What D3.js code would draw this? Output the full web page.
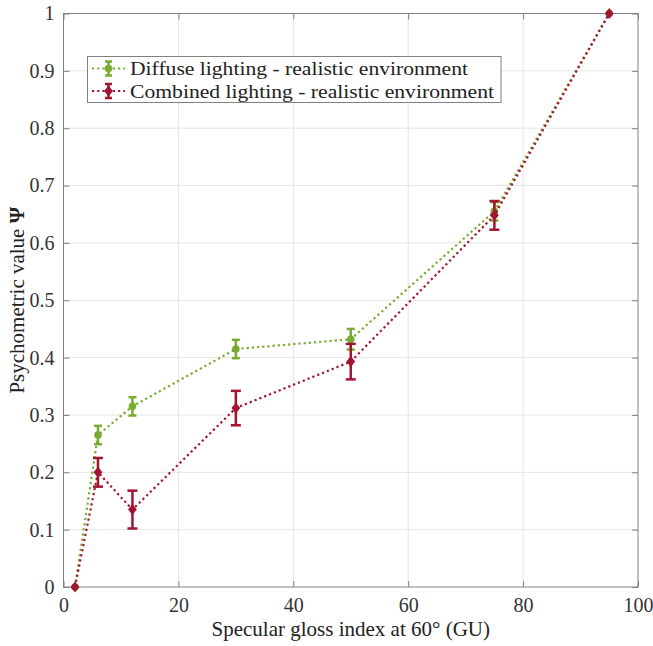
<!DOCTYPE html>
<html><head><meta charset="utf-8">
<script src="https://cdn.jsdelivr.net/npm/d3@7"></script>
<style>body{margin:0;background:#fff}</style>
</head><body>
<script>
const gloss = [2, 6, 12, 30, 50, 75, 95];
const diffuseVals = [0, 0.265, 0.315, 0.415, 0.432, 0.655, 1.0];
const diffuseErr = [0, 0.016, 0.016, 0.016, 0.018, 0.016, 0];
const combinedVals = [0, 0.200, 0.135, 0.312, 0.393, 0.648, 1.0];
const combinedErr = [0, 0.025, 0.033, 0.030, 0.031, 0.025, 0];
const xTicks = [0, 20, 40, 60, 80, 100];
const yTicks = [0, 0.1, 0.2, 0.3, 0.4, 0.5, 0.6, 0.7, 0.8, 0.9, 1];
const seriesNames = ["Diffuse lighting - realistic environment", "Combined lighting - realistic environment"];
const colors = ["#77ac30", "#a2142f"];

const W = 653, H = 646;
const L = 63.5, R = 638, T = 13.5, B = 587;
const svg = d3.select("body").append("svg").attr("width", W).attr("height", H);
const x = d3.scaleLinear().domain([0, 100]).range([L, R]);
const y = d3.scaleLinear().domain([0, 1]).range([B, T]);
const font = "'Liberation Serif'";

// grid
svg.append("g").selectAll("line").data(xTicks.slice(1, -1)).join("line")
  .attr("x1", d => x(d)).attr("x2", d => x(d)).attr("y1", T).attr("y2", B)
  .attr("stroke", "#e5e5e5").attr("stroke-width", 1);
svg.append("g").selectAll("line").data(yTicks.slice(1, -1)).join("line")
  .attr("y1", d => y(d)).attr("y2", d => y(d)).attr("x1", L).attr("x2", R)
  .attr("stroke", "#e5e5e5").attr("stroke-width", 1);

// axes
const axColor = "#808080";
function styleAxis(g) {
  g.attr("font-family", null).attr("font-size", null);
  g.select(".domain").remove();
  g.selectAll(".tick line").attr("stroke", axColor).attr("stroke-width", 1);
  g.selectAll(".tick text").attr("fill", "#333").style("font-family", font).style("font-size", "20px");
}
svg.append("g").attr("transform", `translate(0,${B})`)
  .call(d3.axisBottom(x).tickValues(xTicks).tickSize(-6).tickPadding(11).tickFormat(d3.format("d")))
  .call(styleAxis);
svg.append("g").attr("transform", `translate(${L},0)`)
  .call(d3.axisLeft(y).tickValues(yTicks).tickSize(-6).tickPadding(9).tickFormat(d => d === 0 || d === 1 ? d : d3.format(".1f")(d)))
  .call(styleAxis);
svg.append("g").attr("transform", `translate(0,${T})`)
  .call(d3.axisTop(x).tickValues(xTicks).tickSize(-6).tickFormat(""))
  .call(styleAxis);
svg.append("g").attr("transform", `translate(${R},0)`)
  .call(d3.axisRight(y).tickValues(yTicks).tickSize(-6).tickFormat(""))
  .call(styleAxis);
svg.append("rect").attr("x", L).attr("y", T).attr("width", R - L).attr("height", B - T)
  .attr("fill", "none").attr("stroke", axColor).attr("stroke-width", 1);

// series
const series = [
  {vals: diffuseVals, err: diffuseErr, color: colors[0], marker: "circle", cap: 4},
  {vals: combinedVals, err: combinedErr, color: colors[1], marker: "diamond", cap: 5}
];
const line = d3.line().x(d => x(d[0])).y(d => y(d[1]));
function drawMarker(g, type, cx, cy, color) {
  if (type === "circle") {
    g.append("circle").attr("cx", cx).attr("cy", cy).attr("r", 3.8).attr("fill", color);
  } else {
    const s = 5.5;
    g.append("path").attr("d", `M${cx},${cy - s}L${cx + s * 0.8},${cy}L${cx},${cy + s}L${cx - s * 0.8},${cy}Z`).attr("fill", color);
  }
}
series.forEach(s => {
  const pts = gloss.map((g, i) => [g, s.vals[i]]);
  svg.append("path").attr("d", line(pts)).attr("fill", "none").attr("stroke", s.color)
    .attr("stroke-width", 2.2).attr("stroke-dasharray", "2.2,3");
  const g = svg.append("g");
  pts.forEach((p, i) => {
    const e = s.err[i];
    if (e > 0) {
      const cx = x(p[0]), y1 = y(p[1] - e), y2 = y(p[1] + e);
      g.append("line").attr("x1", cx).attr("x2", cx).attr("y1", y1).attr("y2", y2).attr("stroke", s.color).attr("stroke-width", 2.5);
      [y1, y2].forEach(yy => g.append("line").attr("x1", cx - s.cap).attr("x2", cx + s.cap).attr("y1", yy).attr("y2", yy).attr("stroke", s.color).attr("stroke-width", 2.5));
    }
    drawMarker(g, s.marker, x(p[0]), y(p[1]), s.color);
  });
});

// legend
const lg = svg.append("g");
lg.append("rect").attr("x", 87.5).attr("y", 56.5).attr("width", 413.5).attr("height", 46)
  .attr("fill", "#fff").attr("stroke", "#808080").attr("stroke-width", 1);
const legendW = [338, 364];
series.forEach((s, i) => {
  const cy = 68.5 + i * 22.5;
  lg.append("line").attr("x1", 92).attr("x2", 125).attr("y1", cy).attr("y2", cy)
    .attr("stroke", s.color).attr("stroke-width", 2.2).attr("stroke-dasharray", "2.2,3");
  const cx = 108.5;
  lg.append("line").attr("x1", cx).attr("x2", cx).attr("y1", cy - 7).attr("y2", cy + 7).attr("stroke", s.color).attr("stroke-width", 2.5);
  [cy - 7, cy + 7].forEach(yy => lg.append("line").attr("x1", cx - 3.5).attr("x2", cx + 3.5).attr("y1", yy).attr("y2", yy).attr("stroke", s.color).attr("stroke-width", 2.5));
  drawMarker(lg, s.marker, cx, cy, s.color);
  lg.append("text").attr("x", 130).attr("y", cy + 6.5).style("font-family", font).style("font-size", "19.5px")
    .attr("textLength", legendW[i]).attr("lengthAdjust", "spacingAndGlyphs")
    .attr("fill", "#222").text(seriesNames[i]);
});

// axis labels
svg.append("text").attr("x", (L + R) / 2).attr("y", 636).attr("text-anchor", "middle")
  .style("font-family", font).style("font-size", "21px").attr("fill", "#222")
  .text("Specular gloss index at 60° (GU)");
const yl = svg.append("text").attr("transform", `translate(24,${(T + B) / 2}) rotate(-90)`)
  .attr("text-anchor", "middle").style("font-family", font).style("font-size", "21px").attr("fill", "#222");
yl.append("tspan").text("Psychometric value ");
yl.append("tspan").attr("font-weight", "bold").text("Ψ");
</script>
</body></html>
